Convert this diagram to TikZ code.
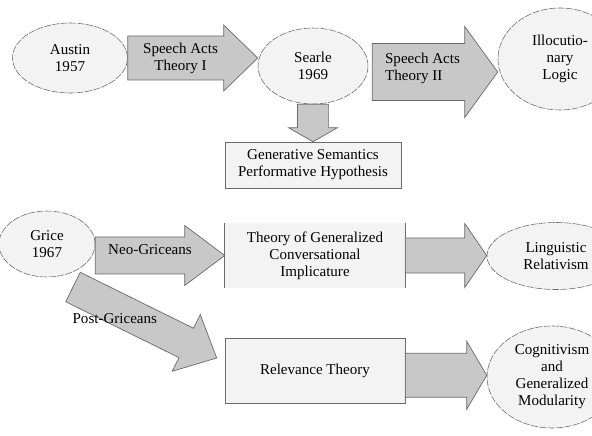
\documentclass[tikz,border=0pt]{standalone}
\usepackage{fontspec}
\setmainfont{Liberation Serif}
\usepackage{tikz}
\usetikzlibrary{calc,shapes.geometric}
\definecolor{arrowgray}{HTML}{C8C8C8}
\definecolor{edgegray}{HTML}{6A6A6A}
\definecolor{softgray}{HTML}{F3F3F3}
\newcommand{\mainsize}{\fontsize{10.7pt}{12.1pt}\selectfont}
\tikzset{
  era/.style={ellipse, draw=edgegray, dash pattern=on 5pt off 1pt, fill=softgray, align=center, inner sep=0pt, font=\mainsize},
  theorybox/.style={rectangle, draw=edgegray, fill=softgray, align=center, inner sep=0pt, font=\mainsize},
  fatarrow/.style={draw=edgegray, fill=arrowgray, line width=0.5pt, line join=miter},
  arrowlabel/.style={align=center, inner sep=1pt, font=\mainsize}
}
% #1 label options, #2 from, #3 to, #4 body half width, #5 head half width, #6 head length, #7 label
\newcommand{\fatarrow}[7][]{%
  \coordinate (fah) at ($(#3)!#6!(#2)$);
  \draw[fatarrow] ($(#2)!#4!90:(#3)$) -- ($(fah)!#4!-90:(#2)$) -- ($(fah)!#5!-90:(#2)$) -- (#3)
    -- ($(fah)!#5!90:(#2)$) -- ($(fah)!#4!90:(#2)$) -- ($(#2)!#4!-90:(#3)$) -- cycle;
  \node[arrowlabel, #1] at ($(#2)!0.5!(fah)$) {#7};
}

\begin{document}
\begin{tikzpicture}
  \clip (0,0) rectangle (14.8,10.875);
  \fill[white] (0,0) rectangle (14.8,10.875);

  % speech acts
  \node[era, minimum width=2.875cm, minimum height=1.75cm] (austin) at (1.75,9.425) {Austin\\1957};
  \node[era, minimum width=2.75cm, minimum height=1.9cm] (searle) at (7.825,9.225) {Searle\\1969};
  \node[era, minimum width=3.1cm, minimum height=2.55cm] (illoc) at (14.0,9.4) {Illocutio-\\nary\\Logic};
  \node[theorybox, minimum width=4.4cm, minimum height=1.15cm] (gensem) at (7.825,6.75) {Generative Semantics\\Performative Hypothesis};

  % implicature
  \node[era, minimum width=2.4cm, minimum height=1.65cm] (grice) at (1.175,4.775) {Grice\\1967};
  \node[theorybox, draw=none, minimum width=4.5cm, minimum height=1.625cm] (gci) at (7.875,4.4875) {Theory of Generalized\\Conversational\\Implicature};
  \draw[edgegray] (gci.north west) -- (gci.south west) (gci.north east) -- (gci.south east);
  \node[era, minimum width=3.45cm, minimum height=1.675cm] (ling) at (13.9,4.475) {Linguistic\\Relativism};
  \node[theorybox, minimum width=4.5cm, minimum height=1.625cm] (relev) at (7.875,1.6125) {Relevance Theory};
  \node[era, minimum width=3.25cm, minimum height=2.55cm] (cog) at (13.8,1.45) {Cognitivism\\and\\Generalized\\Modularity};

  \coordinate (a1to) at (austin.east -| searle.west);
  \coordinate (a2from) at ($(searle.east)+(0.1,-0.15)$);
  \coordinate (a2to) at (a2from -| illoc.west);
  \coordinate (a4from) at (gci.west -| grice.east);
  \coordinate (a5to) at (gci.east -| ling.west);
  \coordinate (postfrom) at ($(grice.center)+(0.65,-1.075)$);
  \coordinate (postto) at ($(relev.west)+(-0.2,0.3125)$);
  \coordinate (a7from) at ($(relev.east)+(0,-0.12)$);
  \coordinate (a7to) at (a7from -| cog.west);

  \fatarrow[xshift=0.12cm]{austin.east}{a1to}{0.55cm}{0.825cm}{0.85cm}{Speech Acts\\Theory I}
  \fatarrow[align=left, xshift=0.1cm, yshift=0.09cm]{a2from}{a2to}{0.7125cm}{1.1375cm}{0.825cm}{Speech Acts\\Theory II}
  \fatarrow{searle.south}{gensem.north}{0.39cm}{0.61cm}{0.35cm}{}
  \fatarrow[xshift=0.25cm, yshift=0.14cm]{a4from}{gci.west}{0.4625cm}{0.75cm}{1.0cm}{Neo-Griceans}
  \fatarrow{gci.east}{a5to}{0.44cm}{0.8cm}{0.55cm}{}
  \fatarrow[xshift=-0.37cm, yshift=-0.08cm]{postfrom}{postto}{0.41cm}{0.79cm}{0.85cm}{Post-Griceans}
  \fatarrow{a7from}{a7to}{0.55cm}{0.85cm}{0.5cm}{}
\end{tikzpicture}
\end{document}
